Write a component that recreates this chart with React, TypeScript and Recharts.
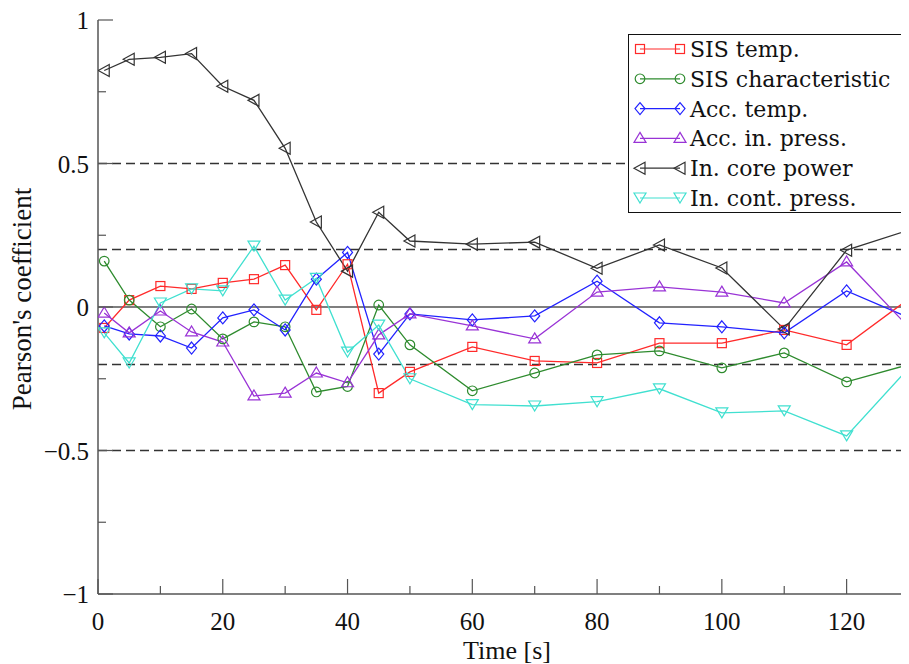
import React from "react";
import { LineChart, Line, XAxis, YAxis, ReferenceLine } from "recharts";

// time stamps [s]; the last point lies beyond the visible range and is clipped
const time = [1, 5, 10, 15, 20, 25, 30, 35, 40, 45, 50, 60, 70, 80, 90, 100, 110, 120, 140];

const sisTemp = [-0.073, 0.024, 0.073, 0.063, 0.084, 0.097, 0.146, -0.01, 0.149, -0.3, -0.226, -0.139, -0.188, -0.195, -0.126, -0.126, -0.08, -0.132, 0.19];
const sisChar = [0.16, 0.024, -0.069, -0.007, -0.111, -0.052, -0.069, -0.296, -0.277, 0.007, -0.132, -0.292, -0.23, -0.167, -0.153, -0.212, -0.16, -0.261, -0.14];
const accTemp = [-0.066, -0.094, -0.101, -0.143, -0.038, -0.01, -0.08, 0.097, 0.19, -0.164, -0.024, -0.045, -0.031, 0.09, -0.055, -0.069, -0.09, 0.056, -0.13];
const accInPress = [-0.021, -0.09, -0.014, -0.087, -0.122, -0.31, -0.3, -0.23, -0.264, -0.097, -0.024, -0.066, -0.111, 0.052, 0.07, 0.052, 0.014, 0.157, -0.3];
const inCorePower = [0.824, 0.863, 0.87, 0.883, 0.769, 0.72, 0.553, 0.296, 0.125, 0.33, 0.23, 0.219, 0.226, 0.135, 0.216, 0.136, -0.077, 0.198, 0.338];
const inContPress = [-0.09, -0.195, 0.014, 0.063, 0.056, 0.212, 0.024, 0.1, -0.157, -0.063, -0.25, -0.34, -0.345, -0.33, -0.285, -0.369, -0.362, -0.449, 0.025];

const xTicks = [0, 10, 20, 30, 40, 50, 60, 70, 80, 90, 100, 110, 120];
const yTicks = [-1, -0.75, -0.5, -0.25, 0, 0.25, 0.5, 0.75, 1];
const dashedLevels = [0.5, 0.2, -0.2, -0.5];

type Shape = "square" | "circle" | "diamond" | "up" | "left" | "down";

const series: { key: string; name: string; values: number[]; color: string; shape: Shape }[] = [
  { key: "sisTemp", name: "SIS temp.", values: sisTemp, color: "#ff2a2a", shape: "square" },
  { key: "sisChar", name: "SIS characteristic", values: sisChar, color: "#2e8b2e", shape: "circle" },
  { key: "accTemp", name: "Acc. temp.", values: accTemp, color: "#2222ff", shape: "diamond" },
  { key: "accInPress", name: "Acc. in. press.", values: accInPress, color: "#9933d6", shape: "up" },
  { key: "inCorePower", name: "In. core power", values: inCorePower, color: "#333333", shape: "left" },
  { key: "inContPress", name: "In. cont. press.", values: inContPress, color: "#40e0d0", shape: "down" },
];

const data = time.map((t, i) => {
  const row: Record<string, number> = { t };
  series.forEach((s) => (row[s.key] = s.values[i]));
  return row;
});

const FONT = "'Liberation Serif', 'Times New Roman', serif";
const LEGEND_FONT = "'DejaVu Serif', serif";
const AXIS = "#555";

function Marker({ cx, cy, color, shape }: { cx: number; cy: number; color: string; shape: Shape }) {
  const common = { fill: "none", stroke: color, strokeWidth: 1.2 };
  switch (shape) {
    case "square":
      return <rect x={cx - 4.5} y={cy - 4.5} width={9} height={9} {...common} />;
    case "circle":
      return <circle cx={cx} cy={cy} r={4.8} {...common} />;
    case "diamond":
      return <polygon points={`${cx},${cy - 6} ${cx + 5},${cy} ${cx},${cy + 6} ${cx - 5},${cy}`} {...common} />;
    case "up":
      return <polygon points={`${cx},${cy - 6} ${cx + 6},${cy + 4} ${cx - 6},${cy + 4}`} {...common} />;
    case "left":
      return <polygon points={`${cx - 6},${cy} ${cx + 5},${cy - 6} ${cx + 5},${cy + 6}`} {...common} />;
    default:
      return <polygon points={`${cx},${cy + 5} ${cx + 6},${cy - 5} ${cx - 6},${cy - 5}`} {...common} />;
  }
}

function XTick(props: any) {
  const { x, y, payload, top } = props;
  const v = payload.value as number;
  const major = v % 20 === 0;
  const len = major ? 15 : 8;
  return (
    <g>
      <line x1={x} x2={x} y1={y} y2={top ? y + len : y - len} stroke={AXIS} strokeWidth={1.2} />
      {!top && major && (
        <text x={x} y={y + 36} textAnchor="middle" fontSize={25} fill="#111" fontFamily={FONT}>
          {v}
        </text>
      )}
    </g>
  );
}

function YTick(props: any) {
  const { x, y, payload } = props;
  const v = payload.value as number;
  const major = Math.abs(v * 2 - Math.round(v * 2)) < 1e-6;
  const len = major ? 15 : 8;
  const label = v < 0 ? "\u2212" + Math.abs(v) : String(v);
  return (
    <g>
      <line x1={x} x2={x + len} y1={y} y2={y} stroke={AXIS} strokeWidth={1.2} />
      {major && (
        <text x={x - 9} y={y + 9} textAnchor="end" fontSize={25} fill="#111" fontFamily={FONT}>
          {label}
        </text>
      )}
    </g>
  );
}

function Legend() {
  const rowH = 29.8;
  return (
    <svg width={275} height={180} style={{ position: "absolute", left: 620, top: 26 }}>
      <rect x={0.5} y={0.5} width={273} height={178} fill="#fff" stroke="#111" strokeWidth={1} />
      {series.map((s, i) => {
        const cy = 15 + rowH * i;
        return (
          <g key={s.key}>
            <line x1={12} x2={52} y1={cy} y2={cy} stroke={s.color} strokeWidth={1.2} />
            <Marker cx={12} cy={cy} color={s.color} shape={s.shape} />
            <Marker cx={52} cy={cy} color={s.color} shape={s.shape} />
            <text x={62} y={cy + 8} fontSize={22} fill="#111" fontFamily={LEGEND_FONT}>
              {s.name}
            </text>
          </g>
        );
      })}
    </svg>
  );
}

export default function App() {
  return (
    <div style={{ position: "relative", width: 901, height: 656, fontFamily: FONT }}>
      <LineChart width={901} height={656} data={data} margin={{ top: 12, right: 0, left: 0, bottom: 0 }}>
        <XAxis
          dataKey="t"
          type="number"
          domain={[0, 130]}
          allowDataOverflow
          ticks={xTicks}
          interval={0}
          height={70}
          tickSize={0}
          tickMargin={0}
          tickLine={false}
          axisLine={{ stroke: AXIS, strokeWidth: 1.5 }}
          tick={<XTick />}
          label={() => (
            <text x={499} y={651} textAnchor="middle" fontSize={26} fill="#111" fontFamily={FONT}>
              Time [s]
            </text>
          )}
        />
        <XAxis
          xAxisId="top"
          orientation="top"
          dataKey="t"
          type="number"
          domain={[0, 130]}
          allowDataOverflow
          ticks={xTicks}
          interval={0}
          height={0}
          tickSize={0}
          tickMargin={0}
          tickLine={false}
          axisLine={{ stroke: AXIS, strokeWidth: 1.5 }}
          tick={<XTick top />}
        />
        <YAxis
          type="number"
          domain={[-1, 1]}
          allowDataOverflow
          ticks={yTicks}
          interval={0}
          width={90}
          tickSize={0}
          tickMargin={0}
          tickLine={false}
          axisLine={{ stroke: AXIS, strokeWidth: 1.5 }}
          tick={<YTick />}
          label={() => (
            <text
              x={14}
              y={291}
              transform="rotate(-90, 14, 291)"
              textAnchor="middle"
              dominantBaseline="central"
              fontSize={27}
              fill="#111"
              fontFamily={FONT}
            >
              Pearson's coefficient
            </text>
          )}
        />
        <ReferenceLine y={0} stroke="#555" strokeWidth={1.5} />
        {dashedLevels.map((lv) => (
          <ReferenceLine key={lv} y={lv} stroke="#333" strokeWidth={1.5} strokeDasharray="9 5" />
        ))}
        {series.map((s) => (
          <Line
            key={s.key}
            dataKey={s.key}
            name={s.name}
            type="linear"
            stroke={s.color}
            strokeWidth={1.3}
            isAnimationActive={false}
            dot={(p: any) => <Marker key={`${s.key}-${p.index}`} cx={p.cx} cy={p.cy} color={s.color} shape={s.shape} />}
            activeDot={false}
          />
        ))}
      </LineChart>
      <Legend />
    </div>
  );
}
